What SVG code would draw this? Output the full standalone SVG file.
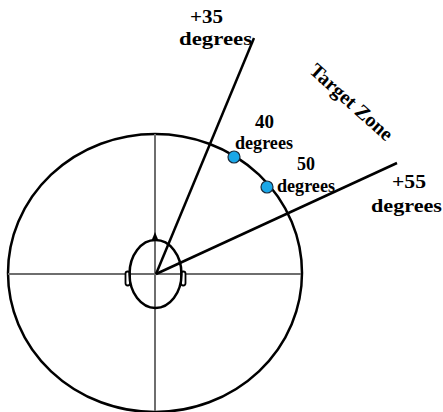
<svg xmlns="http://www.w3.org/2000/svg" width="443" height="412" viewBox="0 0 443 412">
<style>
.lbl{font-family:"Liberation Serif","Times New Roman",serif;font-weight:bold;font-size:18px;fill:#000}
.big{font-size:19.5px}
.ax{stroke:#6e6e6e;stroke-width:2;fill:none}
.ln{stroke:#000;stroke-width:2.5;fill:none}
.dot{fill:#1aa7e8;stroke:#1a2a3a;stroke-width:1.2}
</style>
<rect width="443" height="412" fill="#fff"/>
<g id="field">
<ellipse cx="155" cy="273" rx="147" ry="139" fill="none" stroke="#000" stroke-width="2.5"/>
<line class="ax" x1="155" y1="134" x2="155" y2="411"/>
<line class="ax" x1="8" y1="274" x2="301" y2="274"/>
</g>
<g id="head">
<rect x="125.5" y="271.5" width="4.5" height="14" rx="2.2" fill="#fff" stroke="#000" stroke-width="1.8"/>
<rect x="181" y="271.5" width="4.5" height="14" rx="2.2" fill="#fff" stroke="#000" stroke-width="1.8"/>
<polygon points="155,232 151.5,240.5 158.5,240.5" fill="#000"/>
<ellipse cx="155.5" cy="274" rx="26" ry="34" fill="none" stroke="#000" stroke-width="2.5"/>
</g>
<g id="connectors">
<line class="ln" x1="156" y1="274" x2="254" y2="38"/>
<line class="ln" x1="156" y1="274" x2="397" y2="163"/>
</g>
<g id="dot40"><circle class="dot" cx="234" cy="157" r="6"/></g>
<g id="dot50"><circle class="dot" cx="267" cy="187" r="6"/></g>
<g id="label35">
<text class="lbl big" x="190" y="23" textLength="33" lengthAdjust="spacingAndGlyphs">+35</text>
<text class="lbl big" x="179" y="45" textLength="73" lengthAdjust="spacingAndGlyphs">degrees</text>
</g>
<g id="label55">
<text class="lbl big" x="392" y="188" textLength="34" lengthAdjust="spacingAndGlyphs">+55</text>
<text class="lbl big" x="371" y="212" textLength="71" lengthAdjust="spacingAndGlyphs">degrees</text>
</g>
<g id="label40">
<text class="lbl" x="255" y="128" textLength="19" lengthAdjust="spacingAndGlyphs">40</text>
<text class="lbl" x="235" y="149" textLength="58" lengthAdjust="spacingAndGlyphs">degrees</text>
</g>
<g id="label50">
<text class="lbl" x="297" y="170" textLength="18" lengthAdjust="spacingAndGlyphs">50</text>
<text class="lbl" x="277" y="192" textLength="58" lengthAdjust="spacingAndGlyphs">degrees</text>
</g>
<g id="targetzone">
<text class="lbl" x="0" y="0" text-anchor="middle" style="font-size:20px" transform="translate(347,107) rotate(42)">Target Zone</text>
</g>
</svg>
